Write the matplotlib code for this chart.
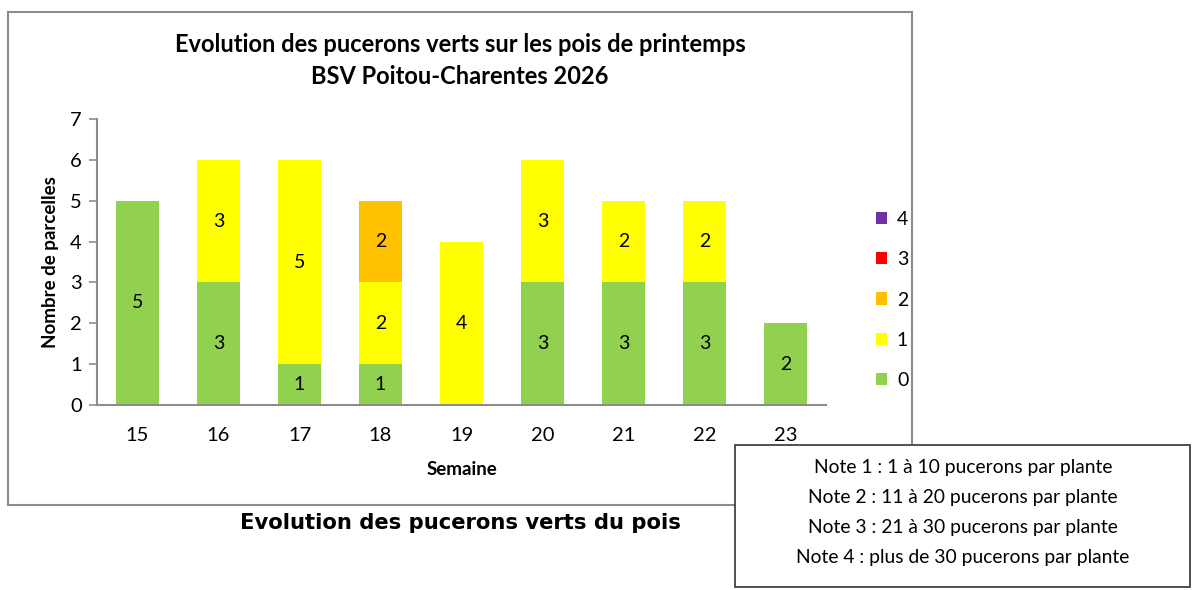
import matplotlib.pyplot as plt
import numpy as np
from matplotlib.patches import Rectangle

plt.rcParams["font.family"] = ["Lato", "DejaVu Sans"]

semaines = ["15", "16", "17", "18", "19", "20", "21", "22", "23"]
note_0 = [5, 3, 1, 1, 0, 3, 3, 3, 2]
note_1 = [0, 3, 5, 2, 4, 3, 2, 2, 0]
note_2 = [0, 0, 0, 2, 0, 0, 0, 0, 0]
note_3 = [0, 0, 0, 0, 0, 0, 0, 0, 0]
note_4 = [0, 0, 0, 0, 0, 0, 0, 0, 0]
series_labels = ["0", "1", "2", "3", "4"]
colors = ["#92D050", "#FFFF00", "#FFC000", "#FF0000", "#7030A0"]
notes_text = [
    "Note 1 : 1 à 10 pucerons par plante",
    "Note 2 : 11 à 20 pucerons par plante",
    "Note 3 : 21 à 30 pucerons par plante",
    "Note 4 : plus de 30 pucerons par plante",
]

W, H = 1192, 590
fig = plt.figure(figsize=(W / 100, H / 100), dpi=100)

# cadre du graphique
fig.patches.append(Rectangle((8 / W, 1 - 505 / H), 904 / W, 493 / H,
                             transform=fig.transFigure, fill=False,
                             edgecolor="#8c8c8c", linewidth=1.5))

ax = fig.add_axes([97 / W, 1 - 405 / H, 729 / W, 286 / H])
x = np.arange(len(semaines))
bottom = np.zeros(len(semaines))
handles = []
for vals, lab, col in zip([note_0, note_1, note_2, note_3, note_4], series_labels, colors):
    vals = np.array(vals, dtype=float)
    bars = ax.bar(x, vals, 0.52, bottom=bottom, color=col, label=lab)
    handles.append(bars)
    for xi, v, b in zip(x, vals, bottom):
        if v > 0:
            ax.text(xi, b + v / 2, f"{int(v)}", ha="center", va="center", fontsize=14)
    bottom += vals

ax.set_xlim(-0.5, len(semaines) - 0.5)
ax.set_ylim(0, 7)
ax.set_xticks(x)
ax.set_xticklabels(semaines, fontsize=14.5)
ax.set_yticks(range(8))
ax.tick_params(axis="y", labelsize=14.5, length=6, color="#8c8c8c", width=1.2, pad=5)
ax.tick_params(axis="x", length=0, pad=16)
for s in ["top", "right"]:
    ax.spines[s].set_visible(False)
for s in ["left", "bottom"]:
    ax.spines[s].set_color("#8c8c8c")
    ax.spines[s].set_linewidth(1.5)
ax.set_xlabel("Semaine", fontsize=13.5, fontweight="bold", labelpad=12)
ax.set_ylabel("Nombre de parcelles", fontsize=13.5, fontweight="bold", labelpad=8)

leg = fig.legend(handles[::-1], series_labels[::-1], loc="center left",
                 bbox_to_anchor=(858 / W, 1 - 300 / H), frameon=False,
                 fontsize=14, handlelength=0.6, handleheight=0.6,
                 labelspacing=1.2, handletextpad=0.5)

fig.text(460 / W, 1 - 45 / H, "Evolution des pucerons verts sur les pois de printemps",
         ha="center", va="center", fontsize=17, fontweight="bold")
fig.text(460 / W, 1 - 76 / H, "BSV Poitou-Charentes 2026",
         ha="center", va="center", fontsize=17, fontweight="bold")

fig.text(460 / W, 1 - 523 / H, "Evolution des pucerons verts du pois",
         ha="center", va="center", fontsize=15.2, fontweight="bold", family="DejaVu Sans")

# encadré des notes
fig.patches.append(Rectangle((735 / W, 1 - 587 / H), 455 / W, 142 / H,
                             transform=fig.transFigure, facecolor="white",
                             edgecolor="#333333", linewidth=1.2, zorder=5))
for i, t in enumerate(notes_text):
    fig.text(963 / W, 1 - (468 + i * 30) / H, t, ha="center", va="center",
             fontsize=13.9, zorder=6)

fig.savefig("out.png", dpi=100)
